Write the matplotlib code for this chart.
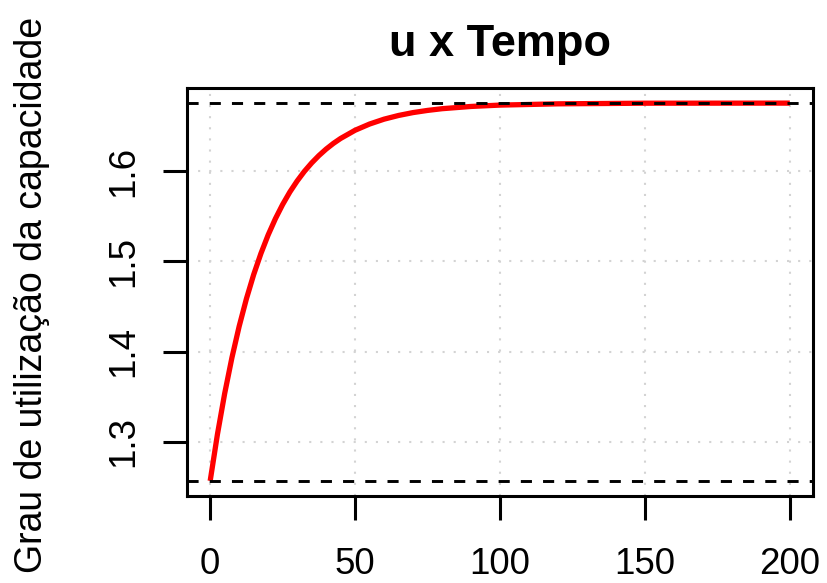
import matplotlib.pyplot as plt
import numpy as np

# capacity utilisation over time (simulation output)
tempo = [0, 2.5, 5, 7.5, 10, 12.5, 15, 17.5, 20, 22.5, 25, 27.5, 30, 32.5,
         35, 37.5, 40, 42.5, 45, 50, 55, 60, 65, 70, 75, 80, 90, 100, 120,
         150, 200]
u = [1.2566, 1.3082, 1.3535, 1.3932, 1.4280, 1.4585, 1.4853, 1.5087,
     1.5293, 1.5473, 1.5631, 1.5770, 1.5891, 1.5998, 1.6091, 1.6173,
     1.6245, 1.6308, 1.6363, 1.6454, 1.6523, 1.6577, 1.6618, 1.6650,
     1.6674, 1.6693, 1.6718, 1.6733, 1.6747, 1.6754, 1.6755]

u_inicial = 1.2566
u_final = 1.6755

x_ticks = [0, 50, 100, 150, 200]
y_ticks = [1.3, 1.4, 1.5, 1.6]

plt.rcParams['font.family'] = ['Liberation Sans', 'DejaVu Sans']
plt.rcParams['lines.scale_dashes'] = False

fig = plt.figure(figsize=(8.27, 5.83), dpi=100)
ax = fig.add_axes([187/827, 1 - 496/583, (813-187)/827, (496-88)/583])

# R style 4% padding around the data range
xr = max(tempo) - min(tempo)
ax.set_xlim(min(tempo) - 0.04*xr, max(tempo) + 0.04*xr)
yr = max(u) - min(u)
ax.set_ylim(min(u) - 0.04*yr, max(u) + 0.04*yr)

ax.set_xticks(x_ticks)
ax.set_yticks(y_ticks)
ax.set_xticklabels([str(t) for t in x_ticks])
ax.set_yticklabels([str(t) for t in y_ticks], rotation=90, va='center')

ax.grid(True, color='#d3d3d3', linestyle=(0, (1.5, 6.5)), linewidth=1.5, zorder=0)
ax.set_axisbelow(True)

ax.plot(tempo, u, color='red', linewidth=3.8, zorder=2,
        solid_capstyle='butt', solid_joinstyle='round')
ax.axhline(u_final, color='black', linestyle=(0, (8, 8)), linewidth=2.1, zorder=3)
ax.axhline(u_inicial, color='black', linestyle=(0, (8, 8)), linewidth=2.1, zorder=3)

for s in ax.spines.values():
    s.set_linewidth(2.2)
ax.tick_params(axis='both', length=17, width=2.2, labelsize=26.5)
ax.tick_params(axis='x', pad=19.5)
ax.tick_params(axis='y', pad=16)

ax.set_title('u x Tempo', fontsize=32.5, fontweight='bold', pad=23)
ax.set_ylabel('Grau de utilização da capacidade', fontsize=27,
              rotation_mode='anchor', va='baseline')
ax.yaxis.set_label_coords(-0.2316, 0.4926)

fig.savefig('out.png', dpi=100)
